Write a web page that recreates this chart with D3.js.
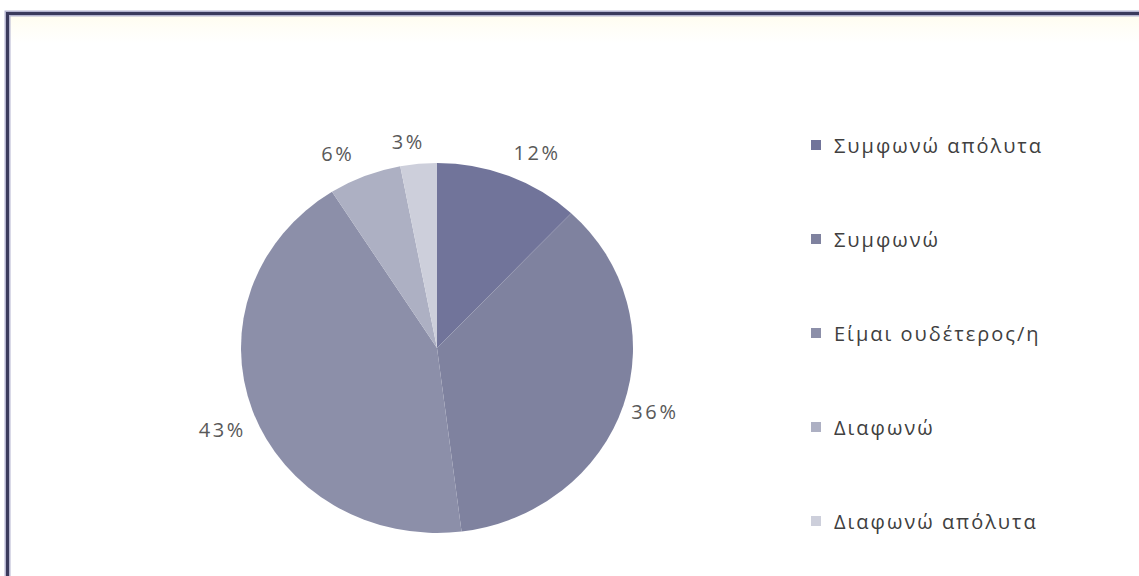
<!DOCTYPE html>
<html>
<head>
<meta charset="utf-8">
<script src="https://cdn.jsdelivr.net/npm/d3@7"></script>
<style>
  html, body { margin: 0; padding: 0; background: #ffffff; }
  svg { display: block; }
  text { font-family: "Open Sans", "Noto Sans", sans-serif; }
</style>
</head>
<body>
<svg id="chart" width="1139" height="576"></svg>
<script>
// Survey answers and their shares (%)
const categories = ["Συμφωνώ απόλυτα", "Συμφωνώ", "Είμαι ουδέτερος/η", "Διαφωνώ", "Διαφωνώ απόλυτα"];
const shares = [12, 36, 43, 6, 3];
const palette = ["#71749a", "#7f829f", "#8c8fa9", "#adb0c3", "#cdcfdb"];

const W = 1139, H = 576;
const svg = d3.select("#chart");

// faint warm tint just under the frame
const defs = svg.append("defs");
const grad = defs.append("linearGradient").attr("id", "tint").attr("x1", 0).attr("y1", 0).attr("x2", 0).attr("y2", 1);
grad.append("stop").attr("offset", "0%").attr("stop-color", "#fffdf0");
grad.append("stop").attr("offset", "100%").attr("stop-color", "#ffffff");
svg.append("rect").attr("x", 9).attr("y", 15).attr("width", W - 9).attr("height", 28).attr("fill", "url(#tint)");

// frame (top and left edges)
const framePath = `M7.5,${H} L7.5,13.5 L${W},13.5`;
svg.append("path").attr("d", framePath).attr("fill", "none").attr("stroke", "#b4b4cf").attr("stroke-width", 6);
svg.append("path").attr("d", framePath).attr("fill", "none").attr("stroke", "#3a3a5c").attr("stroke-width", 3);

// pie geometry (slightly wider than tall)
const cx = 437, cy = 348, rx = 196, ry = 185;
const sx = rx / ry;

const pie = d3.pie().sort(null).value(d => d)(shares);
const arc = d3.arc().innerRadius(0).outerRadius(ry);

const pieG = svg.append("g").attr("transform", `translate(${cx},${cy}) scale(${sx},1)`);
pieG.selectAll("path")
  .data(pie)
  .join("path")
  .attr("d", arc)
  .attr("fill", (d, i) => palette[i]);

// percentage labels placed just outside each slice
const labelArc = d3.arc().innerRadius(ry * 1.06).outerRadius(ry * 1.06);
const fmt = v => `${v}%`;
const labelW = 47, labelH = 20;
const nudge = [[15, -4], [-2, 0], [3, 12], [-14, -3], [-7, -1]];
svg.append("g").selectAll("text")
  .data(pie)
  .join("text")
  .attr("x", (d, i) => {
    const a = (d.startAngle + d.endAngle) / 2;
    return cx + labelArc.centroid(d)[0] * sx + (labelW / 2) * Math.sin(a) + nudge[i][0];
  })
  .attr("y", (d, i) => {
    const a = (d.startAngle + d.endAngle) / 2;
    return cy + labelArc.centroid(d)[1] - (labelH / 2) * Math.cos(a) + nudge[i][1];
  })
  .attr("text-anchor", "middle")
  .attr("dominant-baseline", "central")
  .attr("font-size", 20)
  .attr("letter-spacing", 2.6)
  .attr("fill", "#595959")
  .text(d => fmt(d.data));

// legend
const legendY = d3.scalePoint().domain(categories).range([145, 521]);
const legend = svg.append("g").selectAll("g")
  .data(categories)
  .join("g")
  .attr("transform", d => `translate(811,${legendY(d)})`);
legend.append("rect")
  .attr("x", 0).attr("y", -5).attr("width", 10).attr("height", 10)
  .attr("fill", (d, i) => palette[i]);
legend.append("text")
  .attr("x", 23).attr("y", 0)
  .attr("dominant-baseline", "central")
  .attr("font-size", 20)
  .attr("letter-spacing", 2)
  .attr("fill", "#404040")
  .text(d => d);
</script>
</body>
</html>
